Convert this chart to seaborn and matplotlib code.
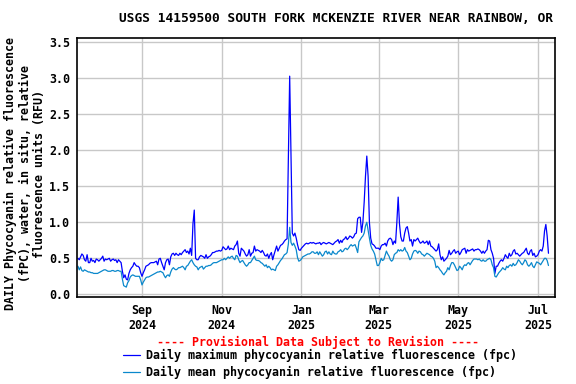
import numpy as np
import pandas as pd
import matplotlib
matplotlib.use("Agg")
import matplotlib.pyplot as plt
import matplotlib.dates as mdates
import seaborn as sns

# daily values, starting 2024-07-14
START_DATE = "2024-07-14"

daily_max = [
    0.50, 0.48, 0.52, 0.56, 0.54, 0.48, 0.46, 0.55, 0.44, 0.44,
    0.50, 0.46, 0.47, 0.44, 0.49, 0.48, 0.46, 0.48, 0.50, 0.53,
    0.46, 0.49, 0.48, 0.49, 0.50, 0.46, 0.48, 0.49, 0.47, 0.48,
    0.44, 0.48, 0.46, 0.44, 0.32, 0.23, 0.27, 0.21, 0.20, 0.29,
    0.34, 0.37, 0.39, 0.44, 0.41, 0.39,
    0.39, 0.37, 0.30, 0.25, 0.30, 0.34, 0.39, 0.40, 0.41, 0.43,
    0.44, 0.44, 0.44, 0.45, 0.46, 0.41, 0.49, 0.50, 0.44, 0.39,
    0.34, 0.44, 0.48, 0.49, 0.41, 0.52, 0.56, 0.57, 0.54, 0.57,
    0.55, 0.54, 0.57, 0.55, 0.58, 0.60, 0.62, 0.58, 0.60, 0.56,
    0.64, 0.54, 0.98, 1.17, 0.50, 0.48,
    0.48, 0.52, 0.54, 0.53, 0.52, 0.50, 0.55, 0.50, 0.52, 0.53,
    0.55, 0.58, 0.58, 0.59, 0.60, 0.60, 0.61, 0.60, 0.61, 0.66,
    0.64, 0.62, 0.63, 0.67, 0.62, 0.64, 0.63, 0.62, 0.67, 0.69,
    0.74, 0.57, 0.53, 0.64, 0.62, 0.60, 0.56, 0.53, 0.55, 0.62,
    0.53, 0.57, 0.58, 0.67, 0.60, 0.62,
    0.61, 0.60, 0.58, 0.61, 0.58, 0.54, 0.53, 0.56, 0.50, 0.55,
    0.58, 0.48, 0.55, 0.61, 0.67, 0.60, 0.64, 0.68, 0.69, 0.71,
    0.74, 0.76, 0.77, 1.90, 3.03, 1.90, 0.85, 0.81, 0.85, 0.78,
    0.69, 0.62, 0.61, 0.64, 0.66, 0.68, 0.70, 0.71, 0.70, 0.71,
    0.72, 0.71, 0.72, 0.71, 0.70, 0.71,
    0.71, 0.72, 0.69, 0.71, 0.72, 0.71, 0.70, 0.71, 0.72, 0.71,
    0.70, 0.69, 0.71, 0.73, 0.74, 0.76, 0.71, 0.75, 0.72, 0.76,
    0.77, 0.80, 0.76, 0.78, 0.81, 0.80, 0.78, 0.80, 0.84, 0.85,
    1.05, 1.07, 1.07, 0.86, 1.00, 1.28, 1.64, 1.92, 1.64, 1.00,
    0.78, 0.70, 0.69, 0.67, 0.64, 0.64,
    0.64, 0.62, 0.67, 0.69, 0.69, 0.71, 0.67, 0.74, 0.77, 0.78,
    0.76, 0.69, 0.74, 0.71, 1.00, 1.35, 0.98, 0.80, 0.74, 0.74,
    0.85, 0.92, 0.94, 0.85, 0.74, 0.76, 0.67, 0.76, 0.74, 0.76,
    0.78, 0.74, 0.71, 0.72, 0.74, 0.71, 0.72, 0.74, 0.69, 0.74,
    0.67, 0.66, 0.64, 0.62, 0.60, 0.62,
    0.70, 0.55, 0.48, 0.52, 0.46, 0.48, 0.50, 0.53, 0.61, 0.55,
    0.57, 0.60, 0.62, 0.57, 0.59, 0.60, 0.55, 0.58, 0.62, 0.63,
    0.64, 0.57, 0.62, 0.60, 0.61, 0.62, 0.63, 0.60, 0.62, 0.62,
    0.63, 0.62, 0.60, 0.57, 0.60, 0.57, 0.60, 0.62, 0.75, 0.74,
    0.62, 0.57, 0.50, 0.29, 0.39, 0.39,
    0.43, 0.46, 0.48, 0.46, 0.50, 0.55, 0.52, 0.50, 0.57, 0.53,
    0.55, 0.60, 0.62, 0.56, 0.57, 0.55, 0.53, 0.55, 0.57, 0.58,
    0.61, 0.64, 0.57, 0.55, 0.60, 0.62, 0.54, 0.57, 0.52, 0.53,
    0.55, 0.60, 0.62, 0.60, 0.67, 0.88, 0.97, 0.81, 0.57,
]

daily_mean = [
    0.39, 0.34, 0.38, 0.33, 0.32, 0.34, 0.33, 0.32, 0.31, 0.31,
    0.30, 0.30, 0.29, 0.29, 0.29, 0.29, 0.30, 0.31, 0.32, 0.33,
    0.34, 0.34, 0.33, 0.32, 0.32, 0.32, 0.33, 0.33, 0.32, 0.32,
    0.33, 0.33, 0.32, 0.32, 0.21, 0.12, 0.11, 0.10, 0.16, 0.19,
    0.24, 0.26, 0.27, 0.26, 0.25, 0.25,
    0.25, 0.25, 0.20, 0.13, 0.17, 0.20, 0.23, 0.24, 0.24, 0.25,
    0.26, 0.27, 0.28, 0.29, 0.30, 0.31, 0.31, 0.32, 0.31, 0.30,
    0.26, 0.23, 0.26, 0.27, 0.25, 0.31, 0.35, 0.37, 0.35, 0.34,
    0.35, 0.37, 0.37, 0.38, 0.39, 0.37, 0.34, 0.39, 0.40, 0.43,
    0.46, 0.48, 0.44, 0.41, 0.39, 0.38,
    0.34, 0.37, 0.38, 0.39, 0.35, 0.37, 0.39, 0.39, 0.40, 0.40,
    0.41, 0.43, 0.44, 0.44, 0.44, 0.45, 0.46, 0.47, 0.48, 0.48,
    0.50, 0.48, 0.50, 0.52, 0.50, 0.52, 0.53, 0.50, 0.48, 0.54,
    0.53, 0.48, 0.44, 0.46, 0.47, 0.44, 0.41, 0.39, 0.41, 0.44,
    0.44, 0.47, 0.50, 0.53, 0.48, 0.47,
    0.47, 0.46, 0.44, 0.43, 0.41, 0.39, 0.41, 0.37, 0.39, 0.37,
    0.34, 0.35, 0.34, 0.33, 0.39, 0.41, 0.44, 0.47, 0.49, 0.52,
    0.55, 0.56, 0.58, 0.70, 0.93, 0.72, 0.68, 0.71, 0.67, 0.62,
    0.51, 0.46, 0.47, 0.49, 0.52, 0.53, 0.54, 0.55, 0.56, 0.56,
    0.57, 0.59, 0.59, 0.57, 0.57, 0.59,
    0.55, 0.59, 0.56, 0.53, 0.55, 0.59, 0.60, 0.56, 0.59, 0.56,
    0.55, 0.60, 0.57, 0.56, 0.56, 0.59, 0.60, 0.62, 0.59, 0.60,
    0.63, 0.64, 0.62, 0.64, 0.67, 0.69, 0.67, 0.68, 0.69, 0.64,
    0.58, 0.73, 0.76, 0.79, 0.81, 0.85, 0.95, 1.00, 0.89, 0.78,
    0.68, 0.63, 0.60, 0.56, 0.48, 0.40,
    0.40, 0.44, 0.50, 0.47, 0.48, 0.54, 0.60, 0.56, 0.53, 0.48,
    0.46, 0.48, 0.55, 0.57, 0.58, 0.62, 0.60, 0.62, 0.60, 0.61,
    0.65, 0.60, 0.58, 0.53, 0.48, 0.50, 0.56, 0.60, 0.61, 0.60,
    0.57, 0.60, 0.59, 0.56, 0.55, 0.53, 0.55, 0.57, 0.56, 0.55,
    0.53, 0.52, 0.50, 0.46, 0.37, 0.39,
    0.37, 0.34, 0.32, 0.29, 0.27, 0.30, 0.32, 0.37, 0.34, 0.40,
    0.44, 0.44, 0.41, 0.37, 0.33, 0.34, 0.39, 0.37, 0.34, 0.39,
    0.41, 0.40, 0.43, 0.44, 0.41, 0.44, 0.47, 0.49, 0.49, 0.49,
    0.48, 0.49, 0.47, 0.46, 0.48, 0.46, 0.46, 0.48, 0.49, 0.50,
    0.48, 0.41, 0.37, 0.25, 0.24, 0.27,
    0.30, 0.32, 0.34, 0.37, 0.35, 0.34, 0.39, 0.37, 0.40, 0.41,
    0.39, 0.43, 0.40, 0.41, 0.44, 0.48, 0.46, 0.43, 0.41, 0.44,
    0.48, 0.46, 0.41, 0.39, 0.41, 0.44, 0.39, 0.37, 0.41, 0.45,
    0.44, 0.43, 0.41, 0.44, 0.47, 0.50, 0.50, 0.47, 0.40,
]

y_ticks = [0.0, 0.5, 1.0, 1.5, 2.0, 2.5, 3.0, 3.5]
x_ticks = ["2024-09-01", "2024-11-01", "2025-01-01", "2025-03-01", "2025-05-01", "2025-07-01"]

TITLE = "USGS 14159500 SOUTH FORK MCKENZIE RIVER NEAR RAINBOW, OR"
YLABEL = "DAILY Phycocyanin relative fluorescence\n(fPC), water, in situ, relative\nfluorescence units (RFU)"
LABEL_MAX = "Daily maximum phycocyanin relative fluorescence (fpc)"
LABEL_MEAN = "Daily mean phycocyanin relative fluorescence (fpc)"
PROVISIONAL = "---- Provisional Data Subject to Revision ----"

MAX_COLOR = "#0000ff"
MEAN_COLOR = "#0a88cc"

sns.set_style("white")
plt.rcParams["font.family"] = ["DejaVu Sans Mono"]
plt.rcParams["font.weight"] = "bold"
plt.rcParams["text.color"] = "black"
plt.rcParams["xtick.color"] = "black"
plt.rcParams["ytick.color"] = "black"

n = min(len(daily_max), len(daily_mean))
dates = pd.date_range(START_DATE, periods=n, freq="D")
df = pd.DataFrame({"date": dates, "max": daily_max[:n], "mean": daily_mean[:n]})

W, H = 576, 384
fig = plt.figure(figsize=(W / 100, H / 100), dpi=100)
ax = fig.add_axes([77 / W, 1 - 297 / H, 478 / W, 259 / H])

sns.lineplot(data=df, x="date", y="max", ax=ax, color=MAX_COLOR, lw=0.9, label=LABEL_MAX)
sns.lineplot(data=df, x="date", y="mean", ax=ax, color=MEAN_COLOR, lw=0.9, label=LABEL_MEAN)

start = pd.Timestamp(START_DATE)
ax.set_xlim(start - pd.Timedelta(days=0.73), start + pd.Timedelta(days=365))
ax.set_ylim(-0.0375, 3.56)
ax.set_yticks(y_ticks)
ax.set_yticklabels([f"{v:.1f}" for v in y_ticks])
ax.set_xticks(pd.to_datetime(x_ticks))
ax.xaxis.set_major_formatter(mdates.DateFormatter("%b\n%Y"))
ax.tick_params(axis="both", length=0, labelsize=8.4, colors="black")
ax.tick_params(axis="y", pad=5)
ax.tick_params(axis="x", pad=5)
ax.set_xlabel("")
ax.set_ylabel("")
ax.grid(True, color="#c8c8c8", lw=1)
ax.set_axisbelow(True)
for s in ax.spines.values():
    s.set_color("black")
    s.set_linewidth(1.2)

fig.text(336 / W, 1 - 19 / H, TITLE, ha="center", va="center", fontsize=9.3, fontweight="bold",
         color="black")
fig.text(25 / W, 1 - 174 / H, YLABEL, rotation=90, ha="center", va="center",
         multialignment="center", fontsize=8.4, fontweight="bold", linespacing=1.15, color="black")
fig.text(318 / W, 1 - 342 / H, PROVISIONAL, ha="center", va="center", color="red",
         fontsize=8.4, fontweight="bold")

leg = ax.legend(loc="upper left", bbox_to_anchor=(123 / W, 1 - 349 / H), bbox_transform=fig.transFigure,
                frameon=False, fontsize=8.4, borderpad=0, borderaxespad=0, handlelength=1.45,
                handletextpad=0.5, labelspacing=0.3)
for t in leg.get_texts():
    t.set_color("black")

fig.savefig("out.png", dpi=100)
